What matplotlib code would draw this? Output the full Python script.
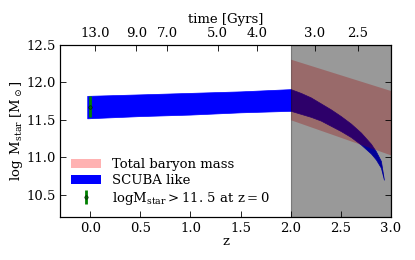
import numpy as np
import matplotlib
matplotlib.use("Agg")
import matplotlib.pyplot as plt
from matplotlib.patches import Patch

plt.rcParams['font.family'] = 'DejaVu Serif'
plt.rcParams['mathtext.fontset'] = 'dejavuserif'
plt.rcParams['font.size'] = 9.5
plt.rcParams['xtick.direction'] = 'in'
plt.rcParams['ytick.direction'] = 'in'

# SCUBA-like band (blue)
z_blue = [-0.03, 0.5, 1.0, 1.5, 2.0, 2.1, 2.2, 2.3, 2.4, 2.5, 2.6, 2.7,
          2.8, 2.85, 2.9, 2.93]
blue_top = [11.82, 11.84, 11.86, 11.88, 11.91, 11.86, 11.80, 11.72, 11.64,
            11.55, 11.45, 11.33, 11.18, 11.08, 10.95, 10.70]
blue_bot = [11.52, 11.55, 11.57, 11.60, 11.62, 11.58, 11.54, 11.49, 11.42,
            11.35, 11.27, 11.17, 11.05, 10.97, 10.86, 10.70]

# total baryon mass band (pink)
z_pink = [2.0, 3.0]
pink_top = [12.31, 11.89]
pink_bot = [11.50, 11.03]

# logMstar > 11.5 at z=0
z_err = [0.0]
m_err = [11.675]
err = [0.14]

# top axis: cosmic time
time_z = [0.05, 0.46, 0.77, 1.27, 1.66, 2.24, 2.67]
time_labels = ['13.0', '9.0', '7.0', '5.0', '4.0', '3.0', '2.5']

fig = plt.figure(figsize=(4.15, 2.6), dpi=100)
ax = fig.add_axes([0.145, 0.165, 0.797, 0.662])

ax.fill_between(z_blue, blue_bot, blue_top, color='blue', lw=0.5)
ax.fill_between(z_pink, pink_bot, pink_top, color='red', alpha=0.3, lw=0)
eb = ax.errorbar(z_err, m_err, yerr=err, fmt='o', color='green', ecolor='green',
                 ms=2.5, mfc='darkgreen', mec='black', mew=0.3, elinewidth=2)
ax.axvspan(2.0, 3.0, color='black', alpha=0.4, lw=0.8)

ax.set_xlim(-0.3, 3.0)
ax.set_ylim(10.2, 12.5)
ax.set_xticks(np.arange(0, 3.01, 0.5))
ax.set_yticks(np.arange(10.5, 12.51, 0.5))
ax.xaxis.set_major_formatter(matplotlib.ticker.FormatStrFormatter('%.1f'))
ax.yaxis.set_major_formatter(matplotlib.ticker.FormatStrFormatter('%.1f'))
ax.tick_params(right=True, length=4, width=0.6)
ax.set_xlabel('z', labelpad=0)
ax.set_ylabel(r'$\log\ \mathrm{M_{star}}\ [\mathrm{M_\odot}]$', labelpad=1)

ax2 = ax.twiny()
ax2.set_xlim(ax.get_xlim())
ax2.set_xticks(time_z)
ax2.set_xticklabels(time_labels)
ax2.tick_params(direction='in', length=4, width=0.6)
ax2.set_xlabel('time [Gyrs]', labelpad=3)

handles = [Patch(color='red', alpha=0.3, lw=0), Patch(color='blue', lw=0), eb]
labels = ['Total baryon mass', 'SCUBA like',
          r'$\mathrm{logM_{star} > 11.\,5\ at\ z = 0}$']
ax.legend(handles, labels, loc='lower left', frameon=False,
          handlelength=2.3, handletextpad=0.8, labelspacing=0.2,
          borderaxespad=0.4, fontsize=9.5)

fig.savefig('out.png', dpi=100)
